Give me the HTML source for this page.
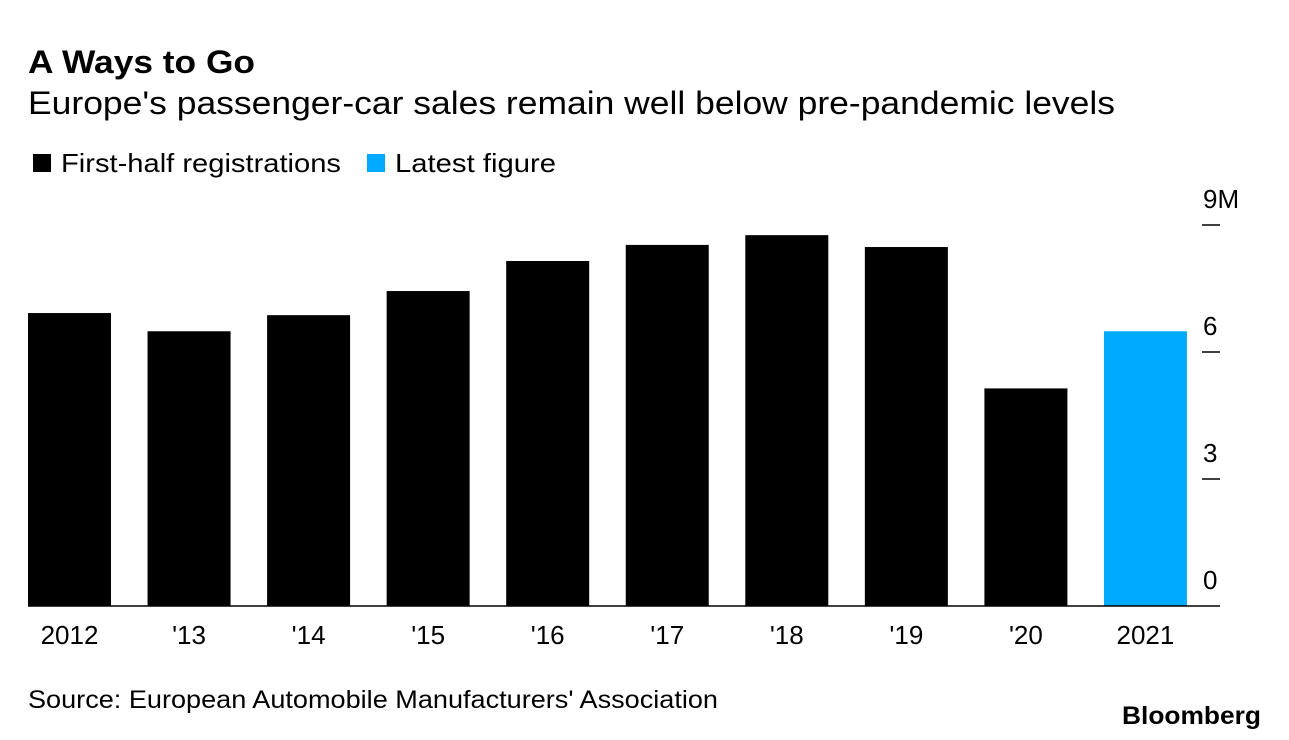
<!DOCTYPE html>
<html><head><meta charset="utf-8"><style>
body{margin:0;background:#fff;font-family:"Liberation Sans",Arial,sans-serif;}
svg{display:block}
</style></head><body>
<svg width="1289" height="740" viewBox="0 0 1289 740">
<text x="28" y="73" font-size="32" font-weight="bold" fill="#000" textLength="227" lengthAdjust="spacingAndGlyphs">A Ways to Go</text>
<text x="28" y="114" font-size="32" fill="#000" textLength="1087" lengthAdjust="spacingAndGlyphs">Europe's passenger-car sales remain well below pre-pandemic levels</text>
<g>
<rect x="33" y="154" width="18" height="18" fill="#000"/>
<text x="61" y="172" font-size="26" textLength="280" lengthAdjust="spacingAndGlyphs">First-half registrations</text>
<rect x="367" y="154" width="18" height="18" fill="#00aaff"/>
<text x="395" y="172" font-size="26" textLength="161" lengthAdjust="spacingAndGlyphs">Latest figure</text>
</g>
<g id="bars"></g>
<g id="axis"></g>
<g id="xaxis"></g>
<text x="28" y="708" font-size="25" fill="#000" textLength="690" lengthAdjust="spacingAndGlyphs">Source: European Automobile Manufacturers' Association</text>
<text x="1122" y="724" font-size="25" font-weight="bold" textLength="139" lengthAdjust="spacingAndGlyphs">Bloomberg</text>
</svg>
<script>
const categories=["2012","'13","'14","'15","'16","'17","'18","'19","'20","2021"];
const values=[6.92,6.49,6.87,7.44,8.15,8.53,8.76,8.48,5.14,6.49];
const highlight=[false,false,false,false,false,false,false,false,false,true];
const ticks=[0,3,6,9];
const tickLabels=["0","3","6","9M"];
const NS="http://www.w3.org/2000/svg";
const y0=606,yPer=(606-225)/9;
function yScale(v){return y0-v*yPer;}
function xScale(i){return 28+i*119.55;}
const bw=83;
const bars=document.getElementById('bars');
values.forEach((v,i)=>{
 const r=document.createElementNS(NS,'rect');
 r.setAttribute('x',xScale(i));r.setAttribute('y',yScale(v));
 r.setAttribute('width',bw);r.setAttribute('height',y0-yScale(v));
 r.setAttribute('fill',highlight[i]?'#00aaff':'#000');
 
 
 bars.appendChild(r);
});
const xa=document.getElementById('xaxis');
const bl=document.createElementNS(NS,'line');
bl.setAttribute('x1',28);bl.setAttribute('x2',1220);bl.setAttribute('y1',y0);bl.setAttribute('y2',y0);
bl.setAttribute('stroke','#000');bl.setAttribute('stroke-width','1.5');


xa.appendChild(bl);
categories.forEach((c,i)=>{
 const t=document.createElementNS(NS,'text');
 t.setAttribute('x',xScale(i)+bw/2);t.setAttribute('y',644);
 t.setAttribute('font-size','26');t.setAttribute('text-anchor','middle');
 t.textContent=c;
 
 
 xa.appendChild(t);
});
const ax=document.getElementById('axis');
ticks.forEach((v,i)=>{
 if(v>0){
 const l=document.createElementNS(NS,'line');
 l.setAttribute('x1',1202);l.setAttribute('x2',1220);l.setAttribute('y1',yScale(v));l.setAttribute('y2',yScale(v));
 l.setAttribute('stroke','#000');l.setAttribute('stroke-width','1.5');
 
 
 ax.appendChild(l);}
 const t=document.createElementNS(NS,'text');
 t.setAttribute('x',1203);t.setAttribute('y',yScale(v)-17);
 t.setAttribute('font-size','26');
 t.textContent=tickLabels[i];
 
 
 ax.appendChild(t);
});
</script>
</body></html>
